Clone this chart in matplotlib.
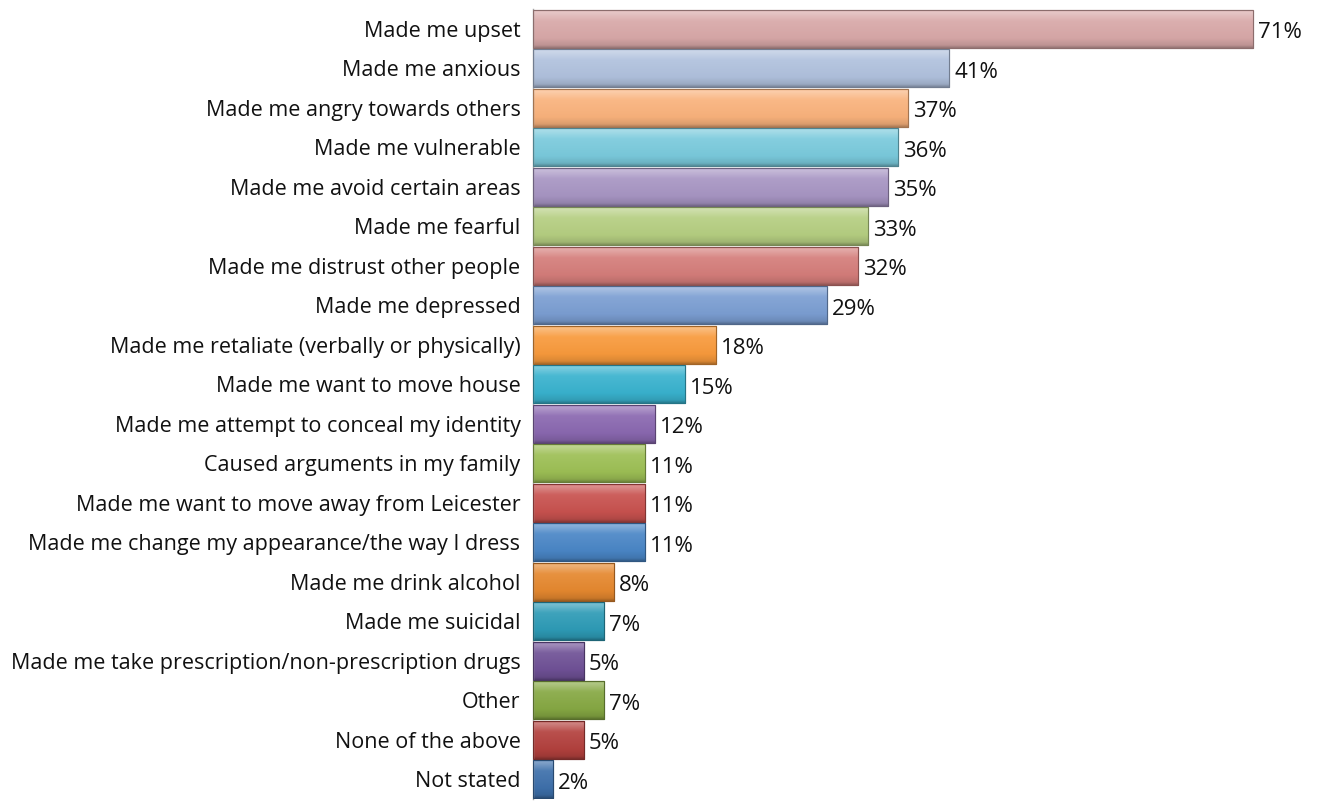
import numpy as np
import matplotlib
matplotlib.use("Agg")
import matplotlib.pyplot as plt
from matplotlib.colors import to_rgb

categories = [
    "Made me upset",
    "Made me anxious",
    "Made me angry towards others",
    "Made me vulnerable",
    "Made me avoid certain areas",
    "Made me fearful",
    "Made me distrust other people",
    "Made me depressed",
    "Made me retaliate (verbally or physically)",
    "Made me want to move house",
    "Made me attempt to conceal my identity",
    "Caused arguments in my family",
    "Made me want to move away from Leicester",
    "Made me change my appearance/the way I dress",
    "Made me drink alcohol",
    "Made me suicidal",
    "Made me take prescription/non-prescription drugs",
    "Other",
    "None of the above",
    "Not stated",
]
values = [71, 41, 37, 36, 35, 33, 32, 29, 18, 15, 12, 11, 11, 11, 8, 7, 5, 7, 5, 2]
colors = [
    "#D8A8A8", "#B0C1DD", "#F9B27C", "#7ACADC", "#A795C3", "#B5CE81",
    "#D47D7A", "#7B9ED2", "#F89A3C", "#39B2CE", "#8A68B0", "#9DBF55",
    "#C8524F", "#4A86C6", "#E5882F", "#2E9BB6", "#6F5196", "#86A843",
    "#B3413E", "#3E70AB",
]

plt.rcParams["font.family"] = ["Open Sans", "DejaVu Sans"]

fig = plt.figure(figsize=(13.21, 8.01), dpi=100)
ax = fig.add_axes([533 / 1321, 1 - 799 / 801, 761 / 1321, 790 / 801])

n = len(categories)
ypos = np.arange(n)
bar_h = 0.97


def shade(rgb, f):
    rgb = np.array(rgb)
    if f >= 0:
        return rgb + (1 - rgb) * f
    return rgb * (1 + f)


for y, v, c in zip(ypos, values, colors):
    base = to_rgb(c)
    # glossy vertical gradient: bright highlight on top, darker towards bottom
    stops_t = [0.0, 0.08, 0.3, 0.75, 0.93, 1.0]
    stops_f = [0.15, 0.35, 0.08, -0.02, -0.12, -0.3]
    t = np.linspace(0, 1, 64)
    grad = np.zeros((64, 1, 3))
    for k in range(3):
        vals = [shade(base, f)[k] for f in stops_f]
        grad[:, 0, k] = np.interp(t, stops_t, vals)
    grad = np.clip(grad, 0, 1)
    top = y - bar_h / 2
    bot = y + bar_h / 2
    bars = ax.barh(y, v, height=bar_h, color=c, edgecolor=shade(base, -0.35),
                   linewidth=0.8, zorder=2)
    im = ax.imshow(grad, extent=(0, v, bot, top), aspect="auto",
                   interpolation="bilinear", zorder=2.5)
    im.set_clip_path(bars.patches[0])
    ax.barh(y, v, height=bar_h, fill=False, edgecolor=shade(base, -0.35),
            linewidth=0.8, zorder=3)
    ax.text(v + 0.5, y + 0.1, f"{v}%", va="center", ha="left",
            fontsize=16, color="#111111")

ax.set_xlim(0, 75)
ax.set_ylim(n - 0.5, -0.5)
ax.set_yticks(ypos)
ax.set_yticklabels(categories, fontsize=15.5, color="#111111")
ax.tick_params(axis="y", length=0, pad=9)
ax.set_xticks([])
for s in ["top", "right", "bottom"]:
    ax.spines[s].set_visible(False)
ax.spines["left"].set_color("#A6A6A6")
ax.spines["left"].set_linewidth(1.0)

fig.savefig("out.png", dpi=100)
